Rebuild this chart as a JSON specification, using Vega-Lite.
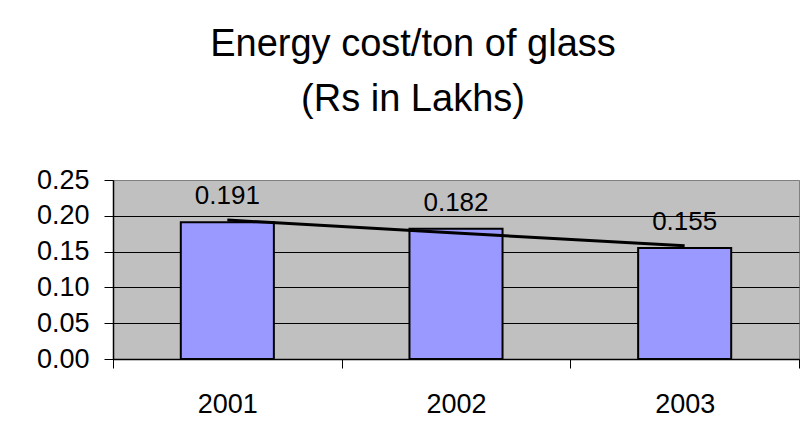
{
  "$schema": "https://vega.github.io/schema/vega-lite/v6.json",
  "autosize": "none",
  "width": 686,
  "height": 179,
  "padding": {"left": 113, "top": 180, "right": 12, "bottom": 88},
  "background": "white",
  "title": {
    "text": ["Energy cost/ton of glass", "(Rs in Lakhs)"],
    "font": "Liberation Sans",
    "fontSize": 38,
    "fontWeight": "normal",
    "color": "black",
    "anchor": "middle",
    "frame": "group",
    "dx": -43,
    "lineHeight": 55,
    "offset": 47
  },
  "data": {
    "values": [
      {"year": "2001", "cost": 0.191, "trend": 0.194},
      {"year": "2002", "cost": 0.182, "trend": 0.176},
      {"year": "2003", "cost": 0.155, "trend": 0.158}
    ]
  },
  "config": {
    "view": {"fill": "#C0C0C0", "stroke": "#808080", "strokeWidth": 1},
    "axis": {
      "labelFont": "Liberation Sans",
      "labelColor": "black",
      "domainColor": "black",
      "tickColor": "black",
      "titleFont": "Liberation Sans"
    }
  },
  "encoding": {
    "x": {
      "field": "year",
      "type": "nominal",
      "scale": {"paddingInner": 0, "paddingOuter": 0},
      "axis": {
        "title": null,
        "labelAngle": 0,
        "labelFontSize": 27,
        "labelPadding": 23,
        "tickSize": 9,
        "tickBand": "extent",
        "domainWidth": 1.5
      }
    }
  },
  "layer": [
    {
      "mark": {"type": "bar", "fill": "#9999FF", "stroke": "black", "strokeWidth": 2, "width": {"band": 0.407}},
      "encoding": {
        "y": {
          "field": "cost",
          "type": "quantitative",
          "scale": {"domain": [0, 0.25], "nice": false},
          "axis": {
            "title": null,
            "values": [0, 0.05, 0.1, 0.15, 0.2, 0.25],
            "format": ".2f",
            "labelFontSize": 27,
            "labelPadding": 15,
            "labelOverlap": false,
            "tickSize": 9,
            "grid": true,
            "gridColor": {"condition": {"test": "datum.value >= 0.25", "value": "#808080"}, "value": "black"},
            "gridWidth": 1,
            "domainWidth": 1.5
          }
        }
      }
    },
    {
      "mark": {"type": "line", "color": "black", "strokeWidth": 3},
      "encoding": {
        "y": {
          "field": "trend",
          "type": "quantitative",
          "scale": {"domain": [0, 0.25], "nice": false},
          "axis": {
            "title": null,
            "values": [0, 0.05, 0.1, 0.15, 0.2, 0.25],
            "format": ".2f",
            "labelFontSize": 27,
            "labelPadding": 15,
            "labelOverlap": false,
            "tickSize": 9,
            "grid": true,
            "gridColor": {"condition": {"test": "datum.value >= 0.25", "value": "#808080"}, "value": "black"},
            "gridWidth": 1,
            "domainWidth": 1.5
          }
        }
      }
    },
    {
      "mark": {"type": "text", "font": "Liberation Sans", "fontSize": 26, "baseline": "alphabetic", "dy": -18, "color": "black"},
      "encoding": {
        "y": {
          "field": "cost",
          "type": "quantitative",
          "scale": {"domain": [0, 0.25], "nice": false},
          "axis": {
            "title": null,
            "values": [0, 0.05, 0.1, 0.15, 0.2, 0.25],
            "format": ".2f",
            "labelFontSize": 27,
            "labelPadding": 15,
            "labelOverlap": false,
            "tickSize": 9,
            "grid": true,
            "gridColor": {"condition": {"test": "datum.value >= 0.25", "value": "#808080"}, "value": "black"},
            "gridWidth": 1,
            "domainWidth": 1.5
          }
        },
        "text": {"field": "cost", "type": "quantitative", "format": ".3f"}
      }
    }
  ]
}
